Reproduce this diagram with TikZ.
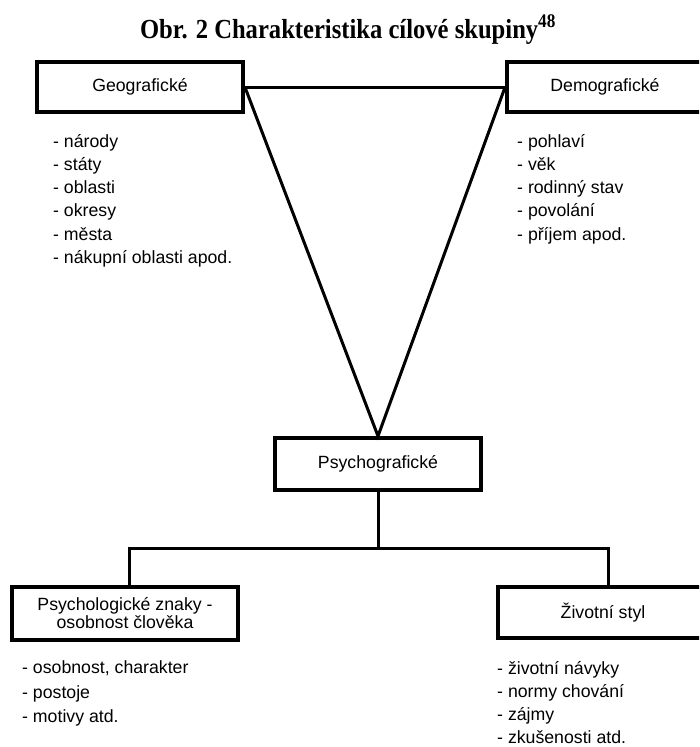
\documentclass[tikz,border=0pt]{standalone}
\usepackage{fontspec}
\setmainfont{Liberation Sans}
\newfontfamily\titlefont{Liberation Serif}
\begin{document}
\begin{tikzpicture}[x=1pt,y=-1pt,
  box/.style={draw=black, line width=3.8pt, inner sep=0pt, align=center,
    font=\fontsize{17.7}{18}\selectfont},
  item/.style={anchor=base west, inner sep=0pt, font=\fontsize{17.7}{21}\selectfont},
  link/.style={line width=3pt, line join=miter}]
\clip (0,0) rectangle (699,747);
\fill[white] (0,0) rectangle (699,747);
\node[font=\titlefont\bfseries\fontsize{24.6}{28}\selectfont, anchor=base, inner sep=0pt] (title) at (348,38) {\scalebox{1}[1.12]{Obr. 2 Charakteristika cílové skupiny\textsuperscript{48}}};
\node[box, minimum width=206pt, minimum height=50pt] (geo) at (140,87) {Geografické};
\node[box, minimum width=196pt, minimum height=50pt] (demo) at (605,87) {Demografické};
\node[box, minimum width=206pt, minimum height=52pt] (psy) at (378,464) {Psychografické};
\node[box, minimum width=226pt, minimum height=53pt] (pz) at (125,613.5) {Psychologické znaky -\\osobnost člověka};
\node[box, minimum width=210pt, minimum height=51pt] (zs) at (603,612.5) {Životní styl};
\draw[link] (geo.east) -- (demo.west);
\draw[link] (geo.east) -- (psy.north) -- (demo.west);
\coordinate (j) at (378,548);
\draw[link] (psy.south) -- (j);
\draw[link] ([xshift=4pt]pz.north) |- (j) -| ([xshift=5pt]zs.north);
\foreach \t [count=\i] in {národy, státy, oblasti, okresy, města, nákupní oblasti apod.}
  \node[item] (geo\i) at (53,{147+23.3*(\i-1)}) {- \t};
\foreach \t [count=\i] in {pohlaví, věk, rodinný stav, povolání, příjem apod.}
  \node[item] (demo\i) at (517,{147+23.3*(\i-1)}) {- \t};
\foreach \t [count=\i] in {{osobnost, charakter}, postoje, motivy atd.}
  \node[item] (pz\i) at (22,{673.5+24.5*(\i-1)}) {- \t};
\foreach \t [count=\i] in {životní návyky, normy chování, zájmy, zkušenosti atd.}
  \node[item] (zs\i) at (497,{674+23.2*(\i-1)}) {- \t};
\end{tikzpicture}
\end{document}
